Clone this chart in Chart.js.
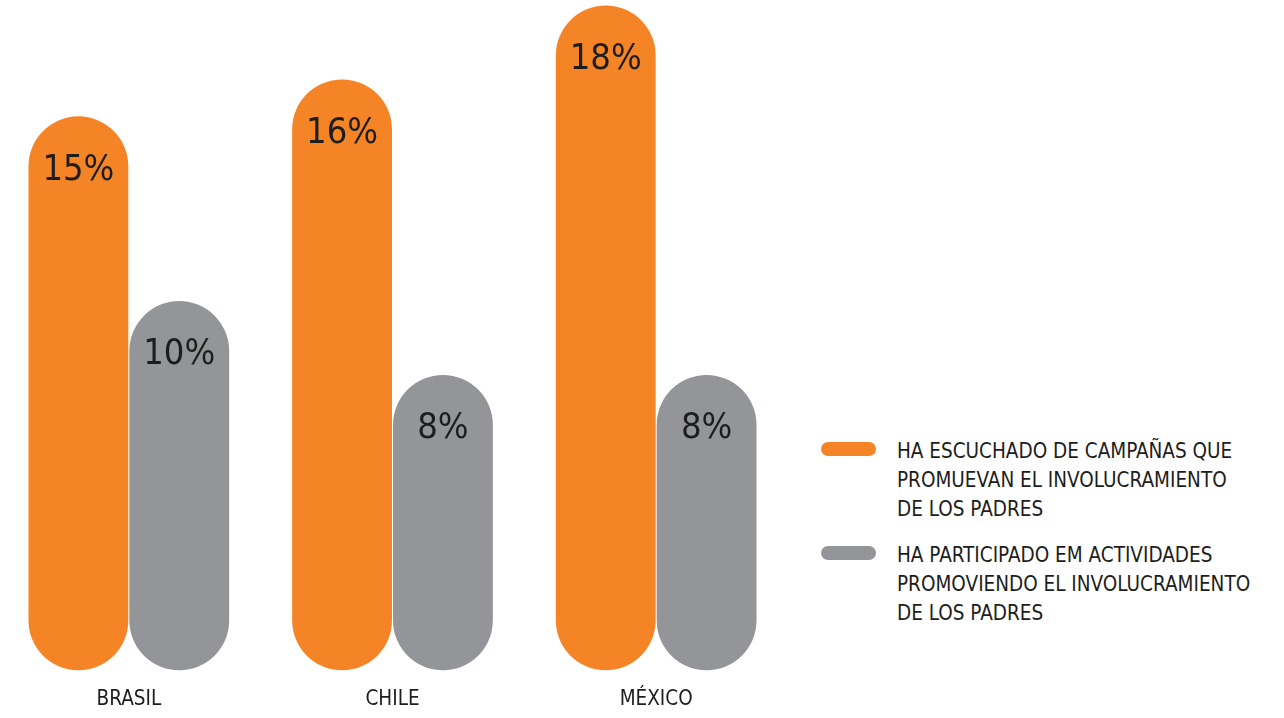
<!DOCTYPE html>
<html>
<head>
<meta charset="utf-8">
<script src="https://cdn.jsdelivr.net/npm/chart.js@4/dist/chart.umd.min.js"></script>
<style>
  html, body { margin: 0; padding: 0; background: #ffffff; width: 1284px; height: 718px; overflow: hidden; }
  #wrap { position: absolute; left: -3px; top: 0; width: 791px; height: 737px; }
  .legend { position: absolute; left: 0; top: 0; }
  .item { position: absolute; left: 821px; width: 440px; }
  .swatch { position: absolute; left: 0; width: 55px; height: 14px; border-radius: 7px; }
  .txt { position: absolute; left: 76px; white-space: nowrap; font-family: 'DejaVu Sans Condensed', sans-serif; font-stretch: condensed; font-size: 20.5px; line-height: 29px; color: #1d1d1b; }
</style>
</head>
<body>
<div id="wrap"><canvas id="c"></canvas></div>
<div class="legend" id="legend"></div>
<script>
const categories = ['BRASIL', 'CHILE', 'MÉXICO'];
const seriesNames = [
  ['HA ESCUCHADO DE CAMPAÑAS QUE', 'PROMUEVAN EL INVOLUCRAMIENTO', 'DE LOS PADRES'],
  ['HA PARTICIPADO EM ACTIVIDADES', 'PROMOVIENDO EL INVOLUCRAMIENTO', 'DE LOS PADRES']
];
const heardValues = [15, 16, 18];
const participatedValues = [10, 8, 8];
const seriesColors = ['#F58426', '#939598'];

const FONT = "'DejaVu Sans Condensed', sans-serif";

// legend (HTML)
const legendTops = [437, 540.5];
const legendEl = document.getElementById('legend');
seriesNames.forEach((lines, i) => {
  const item = document.createElement('div');
  item.className = 'item';
  item.style.top = legendTops[i] + 'px';
  const sw = document.createElement('div');
  sw.className = 'swatch';
  sw.style.top = '5px';
  sw.style.background = seriesColors[i];
  const t = document.createElement('div');
  t.className = 'txt';
  t.innerHTML = lines.join('<br>');
  item.appendChild(sw);
  item.appendChild(t);
  legendEl.appendChild(item);
});

const valueLabels = {
  id: 'valueLabels',
  afterDatasetsDraw(chart) {
    const ctx = chart.ctx;
    ctx.save();
    ctx.font = "36px " + FONT;
    ctx.fillStyle = '#1d1d1b';
    ctx.textAlign = 'center';
    ctx.textBaseline = 'middle';
    chart.data.datasets.forEach((ds, di) => {
      const meta = chart.getDatasetMeta(di);
      meta.data.forEach((bar, i) => {
        ctx.fillText(ds.data[i] + '%', bar.x, bar.y + 54);
      });
    });
    ctx.restore();
  }
};

new Chart(document.getElementById('c'), {
  type: 'bar',
  data: {
    labels: categories,
    datasets: [
      { label: seriesNames[0].join(' '), data: heardValues, backgroundColor: seriesColors[0],
        borderRadius: 60, borderSkipped: false, barPercentage: 0.99, categoryPercentage: 0.765 },
      { label: seriesNames[1].join(' '), data: participatedValues, backgroundColor: seriesColors[1],
        borderRadius: 60, borderSkipped: false, barPercentage: 0.99, categoryPercentage: 0.765 }
    ]
  },
  options: {
    responsive: true,
    maintainAspectRatio: false,
    animation: false,
    layout: { padding: { top: 0, bottom: 8, left: 0, right: 0 } },
    plugins: { legend: { display: false }, tooltip: { enabled: false } },
    scales: {
      x: {
        grid: { display: false, drawTicks: false, tickLength: 0 },
        border: { display: false },
        ticks: { color: '#1d1d1b', padding: 17, font: { family: FONT, size: 20.5 } }
      },
      y: { display: false, min: 0, max: 18.15 }
    }
  },
  plugins: [valueLabels]
});
</script>
</body>
</html>
